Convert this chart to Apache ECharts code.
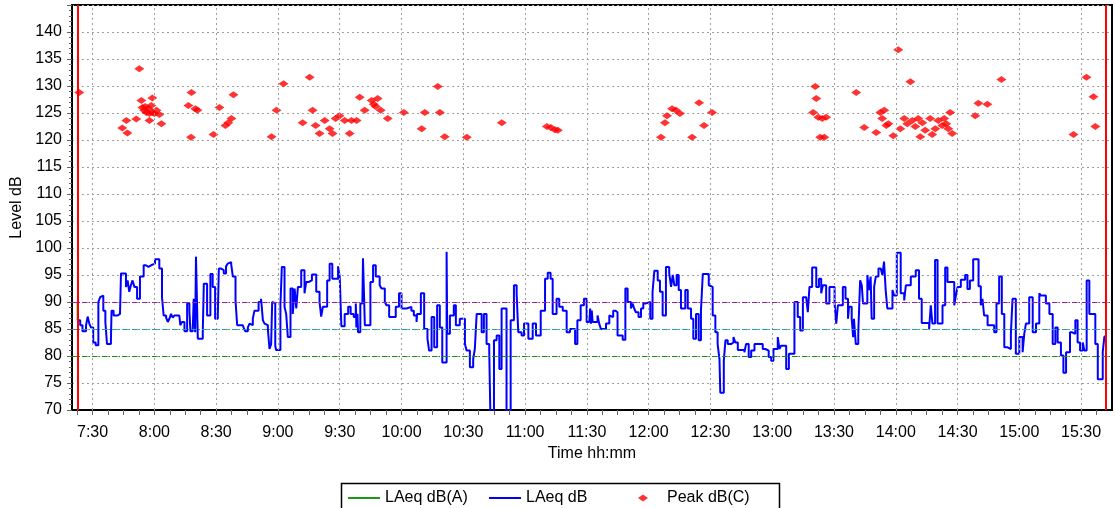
<!DOCTYPE html>
<html>
<head>
<meta charset="utf-8">
<script src="https://cdn.jsdelivr.net/npm/echarts@6/dist/echarts.min.js"></script>
<style>
  html, body { margin: 0; background: #fff; }
  #chart { width: 1115px; height: 508px; }
</style>
</head>
<body>
<div id="chart"></div>
<script>
// x values are minutes after 7:30
var T0 = 7 * 60 + 30;
var timeLabels = ['7:30', '8:00', '8:30', '9:00', '9:30', '10:00', '10:30', '11:00', '11:30',
  '12:00', '12:30', '13:00', '13:30', '14:00', '14:30', '15:00', '15:30'];
var runStart = -7.3, runEnd = 492.2;   // red start / stop markers

// LAeq dB (A) - only the first sample is visible
var dbaMin = [-7.3, -7.3];
var dbaDb = [90.0, 86.6];

// LAeq dB, step trace
var laeqMin = [
  -7.3,-6.0,-4.9,-3.2,-2.4,-1.6,-0.8,0.3,1.5,2.8,
  3.7,4.5,5.2,6.2,7.0,8.9,9.2,10.2,12.2,13.3,
  13.8,16.2,17.0,17.8,18.6,19.4,20.3,21.6,23.0,24.8,
  25.9,27.1,28.4,29.2,30.3,32.4,33.7,34.5,35.7,36.5,
  37.3,38.1,38.9,39.7,42.1,42.6,43.4,44.6,45.9,47.0,
  47.5,48.6,49.1,49.8,50.2,51.1,53.5,54.0,55.6,57.2,
  58.3,59.5,60.8,61.3,62.4,63.2,63.7,64.8,65.6,66.5,
  67.3,68.1,69.4,70.2,71.3,72.1,72.9,73.4,74.1,75.4,
  76.2,77.0,77.8,78.6,80.6,81.8,82.7,83.5,84.3,85.1,
  85.9,86.7,87.2,88.0,88.7,89.1,91.2,91.9,93.2,94.0,
  94.8,96.1,97.2,98.1,98.9,99.7,101.3,102.9,103.7,104.9,
  106.5,108.6,110.2,111.0,111.8,113.9,115.1,
  116.4,119.2,120.0,120.8,122.4,124.1,125.3,126.8,127.8,128.1,
  128.6,128.9,130.0,131.0,131.3,132.2,134.9,136.2,137.5,139.4,
  140.3,141.9,142.7,144.0,147.2,148.8,150.0,152.4,154.8,156.0,
  157.3,157.6,159.4,161.0,162.6,163.4,164.6,165.9,167.3,168.6,
  169.8,171.9,172.2,173.5,175.4,176.4,178.3,180.8,181.6,183.2,
  184.8,185.6,186.5,188.9,190.0,191.3,192.6,193.3,194.9,196.2,
  197.5,198.6,201.0,203.0,204.6,205.9,206.7,208.3,209.5,211.6,
  213.7,215.3,217.6,219.7,221.0,222.4,223.4,225.3,226.6,228.3,
  230.2,231.8,234.3,235.4,237.0,238.6,239.9,
  241.2,241.6,242.0,242.4,242.8,245.2,246.0,246.8,249.3,250.9,
  251.7,252.8,253.8,254.9,257.4,258.7,259.8,261.4,262.2,263.0,
  263.8,265.1,266.3,267.4,268.4,270.8,271.9,272.8,274.4,275.5,
  276.8,278.4,280.0,280.9,281.7,282.5,283.6,284.6,285.7,287.8,
  289.0,290.6,291.7,293.0,294.3,295.4,296.3,299.2,299.8,301.1,
  302.4,303.5,304.4,304.8,306.5,307.3,308.4,310.0,311.2,312.1,
  313.3,316.5,317.3,318.6,319.8,321.4,325.4,326.7,328.3,329.5,
  330.6,332.7,333.5,334.3,336.8,338.1,340.8,342.4,343.6,344.9,
  346.5,347.3,348.1,349.4,351.4,352.7,353.8,354.6,356.2,357.8,
  360.3,361.1,361.9,364.3,365.6,366.8,
  367.3,368.6,369.3,369.7,370.6,371.8,372.7,373.5,374.1,376.2,
  377.0,377.8,378.3,379.5,380.3,381.6,382.7,383.5,384.3,385.1,
  385.9,388.4,389.2,390.5,392.4,394.1,394.9,397.3,399.7,401.3,
  402.6,406.2,407.0,407.8,409.1,410.3,412.7,414.0,415.1,418.4,
  419.2,420.0,421.6,423.7,424.8,426.0,427.6,430.2,431.3,432.1,
  432.9,434.6,437.8,438.9,440.2,441.5,442.7,444.3,445.9,446.7,
  448.3,450.0,451.6,452.4,453.2,454.8,456.5,458.1,459.7,460.5,
  462.9,464.6,466.2,467.5,468.6,470.2,471.4,472.7,474.6,475.6,
  477.2,478.3,479.5,480.8,481.6,482.7,484.0,486.9,488.1,490.5,
  491.3,492.2
];
var laeqDb = [
  86.6,85.7,84.6,85.6,87.3,86.0,85.3,82.5,82.0,90.0,
  90.9,91.2,88.4,86.3,82.2,82.9,88.4,87.5,87.8,88.1,
  95.3,92.8,94.0,91.9,93.1,94.0,92.8,90.6,94.7,96.8,
  96.5,96.8,96.5,97.1,97.9,96.2,90.9,87.5,87.1,86.3,
  86.9,87.8,87.1,87.5,87.8,85.7,86.3,84.6,89.7,88.4,
  84.6,84.4,90.6,84.4,98.4,83.2,84.4,93.4,87.5,95.2,
  92.8,86.9,87.5,96.2,96.5,95.9,95.3,96.6,97.1,97.4,
  97.0,94.7,90.3,85.7,86.0,85.7,86.0,85.2,84.6,85.3,
  86.0,85.7,86.9,88.4,90.0,90.6,86.6,86.0,85.7,85.0,
  81.3,82.2,90.0,89.8,81.9,81.1,89.4,96.5,89.1,87.8,
  83.5,92.5,87.8,92.5,88.8,92.8,95.9,91.6,93.7,94.0,
  95.1,91.9,90.0,87.3,89.1,94.0,97.1,
  94.3,96.6,94.7,85.5,87.8,89.1,87.8,87.2,89.7,85.3,
  87.8,84.4,89.7,90.0,98.1,85.7,93.7,96.8,94.7,93.1,
  92.5,90.0,89.4,87.2,89.1,91.6,88.8,89.1,88.4,87.5,
  86.3,87.8,91.6,85.0,83.2,81.0,87.2,81.6,89.4,85.3,
  78.8,99.3,84.1,87.5,89.4,85.7,86.9,82.2,81.0,77.9,
  79.4,81.3,87.8,84.4,87.8,82.2,81.0,66.0,82.9,83.8,
  77.6,88.8,66.0,86.6,93.1,91.6,84.4,83.8,86.0,83.2,
  86.0,83.8,88.4,94.3,95.4,94.3,87.8,90.6,89.1,88.4,
  84.4,85.0,82.2,86.6,89.4,90.6,86.3,
  86.3,88.8,86.0,88.4,86.3,87.5,86.0,85.0,86.0,87.5,
  87.2,88.4,88.1,83.8,83.0,92.5,90.0,88.8,89.7,88.8,
  88.1,87.2,88.8,89.7,90.0,86.9,91.9,95.8,94.0,91.9,
  87.5,96.5,95.3,92.8,95.0,93.1,95.0,92.2,88.8,92.2,
  88.8,86.9,83.2,87.8,82.9,88.4,95.2,93.1,92.8,87.5,
  84.4,82.2,79.4,73.2,79.1,82.9,82.2,82.5,83.5,82.5,
  81.1,80.7,82.2,79.8,81.0,82.2,81.3,81.0,79.8,79.1,
  81.3,83.5,81.3,81.9,77.6,80.4,90.0,87.2,84.7,90.9,
  91.2,88.1,92.8,96.4,92.8,94.3,91.6,93.1,89.7,92.8,
  89.7,86.0,89.4,92.8,90.6,86.9,
  89.1,86.9,83.5,86.9,82.2,84.4,94.0,93.1,89.7,95.0,
  92.2,94.7,86.9,92.8,94.7,96.2,96.5,95.0,97.5,92.2,
  88.8,92.2,91.2,99.1,91.6,90.3,93.1,94.7,95.9,90.6,
  86.1,85.0,89.4,86.0,97.8,86.0,89.4,96.4,93.7,89.4,
  91.2,92.8,94.1,95.0,92.4,94.0,97.9,92.9,89.4,90.6,
  87.5,85.7,84.4,89.7,94.7,87.8,81.6,81.3,84.1,90.6,
  80.4,83.5,80.7,84.1,86.0,90.9,84.4,86.0,91.6,91.2,
  89.7,87.8,82.2,85.3,82.5,80.1,76.9,80.7,84.4,84.1,
  86.6,82.5,81.0,82.5,81.0,94.0,87.8,82.2,75.7,80.7,
  83.6,83.6
];

// Peak dB(C) events
var peakMin = [
  -6.5,14.4,16.4,16.9,21.2,22.7,23.7,24.2,25.1,25.6,
  26.1,27.1,27.6,27.6,28.5,29.0,29.0,30.0,31.0,32.4,
  33.4,46.5,47.8,48.0,49.9,50.9,58.7,61.6,64.5,65.9,
  67.4,68.4,86.9,89.3,92.7,102.0,105.4,106.8,108.3,110.2,
  112.7,115.1,116.5,118.0,119.9,122.4,124.8,125.7,128.2,129.7,
  132.1,135.5,136.5,137.5,138.4,139.9,143.3,151.1,159.8,161.3,
  167.6,168.6,171.0,181.7,198.7,220.6,222.5,224.5,225.9,276.0,
  277.9,278.9,281.4,283.3,285.2,291.1,294.5,296.9,300.8,349.9,
  350.9,351.4,352.4,353.3,354.3,355.3,356.2,370.8,374.7,380.5,
  382.5,383.4,384.4,385.4,386.4,388.8,391.2,392.2,394.1,395.6,
  397.1,398.0,399.5,400.9,401.9,402.9,404.3,406.7,407.7,409.2,
  410.6,412.6,413.5,414.5,415.5,416.4,417.4,428.6,430.1,434.5,
  441.3,476.3,482.6,486.0,486.9
];
var peakDb = [
  128.8,122.2,123.6,121.3,123.9,133.2,127.3,126.0,125.5,126.2,
  125.1,125.8,124.9,123.6,126.4,127.8,125.1,124.9,125.5,124.7,
  123.0,126.4,120.5,128.8,125.8,125.5,121.0,126.0,122.7,123.2,
  124.0,128.4,120.6,125.5,130.4,123.2,131.6,125.5,122.7,121.2,
  123.6,122.1,121.2,124.0,124.5,123.6,121.2,123.6,123.6,127.9,
  125.5,127.3,126.6,126.2,127.7,125.5,124.0,125.1,122.1,125.1,
  129.9,125.1,120.6,120.5,123.2,122.5,122.3,121.9,121.8,120.5,
  123.2,124.5,125.8,125.5,124.9,120.5,126.9,122.7,125.1,125.1,
  129.9,127.7,124.2,120.5,124.0,120.5,124.2,128.8,122.3,121.4,
  125.1,124.0,125.5,122.7,123.0,120.8,136.7,122.1,124.0,123.0,
  130.8,123.6,122.5,124.0,120.6,123.2,121.8,124.0,121.0,122.1,
  123.6,122.7,124.0,123.0,122.1,125.1,121.2,124.5,126.8,126.6,
  131.2,121.0,131.6,128.0,122.5
];

var font = '"Liberation Sans", Arial, sans-serif';
var pairs = function (xs, ys) { return xs.map(function (x, i) { return [x, ys[i]]; }); };
var clock = function (m) {
  var t = Math.round(T0 + m);
  return Math.floor(t / 60) + ':' + String(t % 60).padStart(2, '0');
};
var labelPos = timeLabels.map(function (s) {
  var p = s.split(':');
  return +p[0] * 60 + +p[1] - T0;
});
var tickPos = [];
for (var m = -7.5; m < 495; m += 7.5) tickPos.push(m);

var gridLine = { color: '#a0a0a0', type: [2, 3], width: 1 };
var refLine = function (c) { return { color: c, type: [5, 2, 1, 2], width: 1 }; };
var legendText = { fontSize: 16, color: '#000', fontFamily: font };

var chart = echarts.init(document.getElementById('chart'));
chart.setOption({
  animation: false,
  textStyle: { fontFamily: font },
  grid: { left: 72, right: 3, top: 5, bottom: 98, show: true, borderColor: '#000', borderWidth: 2 },
  graphic: [{
    type: 'rect', left: 339, top: 481, z: 10,
    shape: { width: 438, height: 32 },
    style: { fill: 'none', stroke: '#000', lineWidth: 1.5 }
  }],
  legend: [{
    left: 348, top: 490, padding: 0, icon: 'rect',
    itemWidth: 32, itemHeight: 2, textStyle: legendText,
    data: [{ name: 'LAeq dB(A)', itemStyle: { color: '#199a19' } }]
  }, {
    left: 489, top: 490, padding: 0, icon: 'rect',
    itemWidth: 32, itemHeight: 2, textStyle: legendText,
    data: ['LAeq dB']
  }, {
    left: 638, top: 490, padding: 0, icon: 'diamond',
    itemWidth: 10, itemHeight: 7,
    textStyle: Object.assign({ padding: [0, 0, 0, 14] }, legendText),
    data: ['Peak dB(C)']
  }],
  xAxis: {
    type: 'value', min: -10, max: 495,
    name: 'Time hh:mm', nameLocation: 'middle', nameGap: 35,
    nameTextStyle: { fontSize: 16, color: '#000' },
    axisLine: { onZero: false, lineStyle: { color: '#000', width: 2 } },
    axisTick: { customValues: tickPos, length: 5, lineStyle: { color: '#666' } },
    axisLabel: { customValues: labelPos, formatter: clock, fontSize: 16, color: '#000', margin: 15 },
    splitLine: { show: false }
  },
  yAxis: {
    type: 'value', min: 70, max: 145, interval: 5,
    name: 'Level dB', nameLocation: 'middle', nameGap: 41,
    nameTextStyle: { fontSize: 16, color: '#000' },
    axisLine: { show: true, onZero: false, lineStyle: { color: '#000', width: 2 } },
    axisTick: { show: true, length: 5, lineStyle: { color: '#666' } },
    minorTick: { show: true, splitNumber: 5, length: 3, lineStyle: { color: '#666' } },
    axisLabel: { fontSize: 16, color: '#000', margin: 10, showMaxLabel: false },
    splitLine: { lineStyle: gridLine }
  },
  series: [{
    name: 'LAeq dB(A)', type: 'line', z: 1,
    symbol: 'none', color: '#00e000', lineStyle: { width: 2 },
    data: pairs(dbaMin, dbaDb),
    markLine: {
      silent: true, symbol: 'none', label: { show: false }, animation: false,
      data: labelPos.map(function (x) { return { xAxis: x, lineStyle: gridLine }; }).concat([
        { yAxis: 90, lineStyle: refLine('#a020a0') },
        { yAxis: 85, lineStyle: refLine('#20a0a0') },
        { yAxis: 80, lineStyle: refLine('#109010') }
      ])
    }
  }, {
    name: 'LAeq dB', type: 'line', z: 3, step: 'end',
    symbol: 'none', color: '#0000ff', lineStyle: { width: 2 },
    data: pairs(laeqMin, laeqDb)
  }, {
    name: 'Peak dB(C)', type: 'scatter', z: 4,
    symbol: 'diamond', symbolSize: [10, 7], color: '#ff0000',
    data: pairs(peakMin, peakDb),
    markLine: {
      silent: true, symbol: 'none', label: { show: false }, animation: false,
      lineStyle: { color: '#ff0000', type: 'solid', width: 2, opacity: 1 },
      data: [{ xAxis: runStart }, { xAxis: runEnd }]
    }
  }]
});
</script>
</body>
</html>
